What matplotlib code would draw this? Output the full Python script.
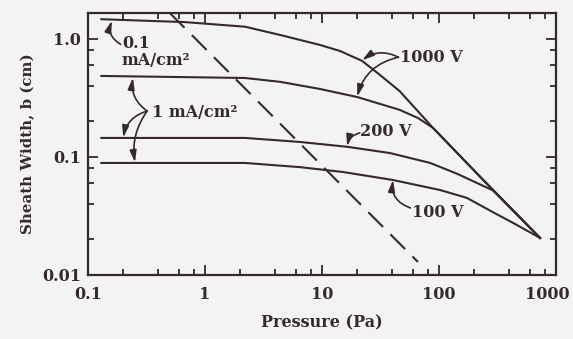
import matplotlib
matplotlib.use("Agg")
import matplotlib.pyplot as plt
import matplotlib.transforms as mtransforms
from matplotlib.ticker import LogLocator, FixedLocator, FixedFormatter, NullFormatter

# values (pressure in Pa, sheath width in cm)
p_1000v_01ma = [0.13, 0.67, 2.2, 4.4, 9.6, 14.3, 22, 31.3, 46, 89, 238, 730]
b_1000v_01ma = [1.47, 1.39, 1.27, 1.08, 0.89, 0.79, 0.652, 0.495, 0.362, 0.176, 0.064, 0.0206]

p_1000v_1ma = [0.13, 2.2, 4.4, 9.6, 20, 46, 66, 89, 238, 730]
b_1000v_1ma = [0.486, 0.467, 0.433, 0.377, 0.322, 0.251, 0.214, 0.176, 0.064, 0.0206]

p_200v = [0.13, 2.2, 6.5, 16.4, 38, 84, 143, 290, 730]
b_200v = [0.145, 0.145, 0.134, 0.122, 0.108, 0.089, 0.072, 0.052, 0.0206]

p_100v = [0.13, 2.2, 6.5, 15.1, 40.4, 102, 173, 290, 464, 730]
b_100v = [0.089, 0.089, 0.082, 0.0746, 0.0638, 0.0525, 0.045, 0.034, 0.0265, 0.0206]

p_dash = [0.50, 66]
b_dash = [1.66, 0.0129]

x_ticks = [0.1, 1, 10, 100, 1000]
x_ticklabels = ["0.1", "1", "10", "100", "1000"]
y_ticks = [0.01, 0.1, 1.0]
y_ticklabels = ["0.01", "0.1", "1.0"]

ink = "#35282f"
paper = "#f3f3f4"

plt.rcParams["font.family"] = "DejaVu Serif"
plt.rcParams["font.size"] = 11.5
plt.rcParams["font.weight"] = "bold"
plt.rcParams["axes.labelweight"] = "bold"

fig = plt.figure(figsize=(5.73, 3.39), dpi=100, facecolor=paper)
ax = fig.add_axes([0.1536, 0.1888, 0.8168, 0.7729], facecolor=paper)

for p, b in [(p_1000v_01ma, b_1000v_01ma), (p_1000v_1ma, b_1000v_1ma),
             (p_200v, b_200v), (p_100v, b_100v)]:
    ax.plot(p, b, color=ink, lw=1.5, solid_joinstyle="round")
ax.plot(p_dash, b_dash, color=ink, lw=1.5, dashes=(10, 5))

ax.set_xscale("log")
ax.set_yscale("log")
ax.set_xlim(0.1, 1000)
ax.set_ylim(0.01, 1.66)

ax.xaxis.set_major_locator(FixedLocator(x_ticks))
ax.xaxis.set_major_formatter(FixedFormatter(x_ticklabels))
ax.yaxis.set_major_locator(FixedLocator(y_ticks))
ax.yaxis.set_major_formatter(FixedFormatter(y_ticklabels))
ax.xaxis.set_minor_locator(LogLocator(base=10, subs=(2, 4, 6, 8)))
ax.yaxis.set_minor_locator(LogLocator(base=10, subs=(2, 4, 6, 8)))
ax.xaxis.set_minor_formatter(NullFormatter())
ax.yaxis.set_minor_formatter(NullFormatter())
ax.tick_params(which="both", direction="in", top=True, right=True,
               color=ink, labelcolor=ink, width=1.3)
ax.tick_params(which="major", length=7)
ax.tick_params(axis="x", which="major", pad=8)
ax.tick_params(axis="y", which="major", pad=5)
ax.tick_params(which="minor", length=4.5)
for s in ax.spines.values():
    s.set_color(ink)
    s.set_linewidth(1.6)

# the last x label sits a little left of its tick in the original
fig.canvas.draw()
last = ax.get_xticklabels()[-1]
last.set_transform(last.get_transform() +
                   mtransforms.ScaledTranslation(-9 / 100, 0, fig.dpi_scale_trans))

ax.set_xlabel("Pressure (Pa)", color=ink, labelpad=8)
ax.set_ylabel("Sheath Width, b (cm)", color=ink, labelpad=5, fontsize=10.8)

# labels and arrows
arrow = dict(arrowstyle="-|>,head_length=0.7,head_width=0.2", color=ink,
             lw=1.2, mutation_scale=10, shrinkA=0, shrinkB=0)

ax.text(0.195, 0.78, "0.1\nmA/cm²", color=ink, ha="left", va="center",
        linespacing=1.0)
ax.annotate("", xy=(0.16, 1.43), xytext=(0.19, 0.90),
            arrowprops=dict(arrow, connectionstyle="arc3,rad=-0.4"))

ax.text(0.35, 0.24, "1 mA/cm²", color=ink, ha="left", va="center")
ax.annotate("", xy=(0.242, 0.47), xytext=(0.32, 0.245),
            arrowprops=dict(arrow, connectionstyle="arc3,rad=-0.3"))
ax.annotate("", xy=(0.20, 0.146), xytext=(0.32, 0.245),
            arrowprops=dict(arrow, connectionstyle="arc3,rad=0.3"))
ax.annotate("", xy=(0.252, 0.090), xytext=(0.32, 0.245),
            arrowprops=dict(arrow, connectionstyle="arc3,rad=0.2"))

ax.text(46, 0.70, "1000 V", color=ink, ha="left", va="center")
ax.annotate("", xy=(22, 0.66), xytext=(45, 0.70),
            arrowprops=dict(arrow, connectionstyle="arc3,rad=0.3"))
ax.annotate("", xy=(20, 0.325), xytext=(45, 0.70),
            arrowprops=dict(arrow, connectionstyle="arc3,rad=0.3"))

ax.text(21, 0.163, "200 V", color=ink, ha="left", va="center")
ax.annotate("", xy=(16.4, 0.123), xytext=(21, 0.160),
            arrowprops=dict(arrow, connectionstyle="arc3,rad=0.3"))

ax.text(59, 0.034, "100 V", color=ink, ha="left", va="center")
ax.annotate("", xy=(40.4, 0.064), xytext=(57, 0.037),
            arrowprops=dict(arrow, connectionstyle="arc3,rad=-0.4"))

fig.savefig("out.png", dpi=100, facecolor=paper)
